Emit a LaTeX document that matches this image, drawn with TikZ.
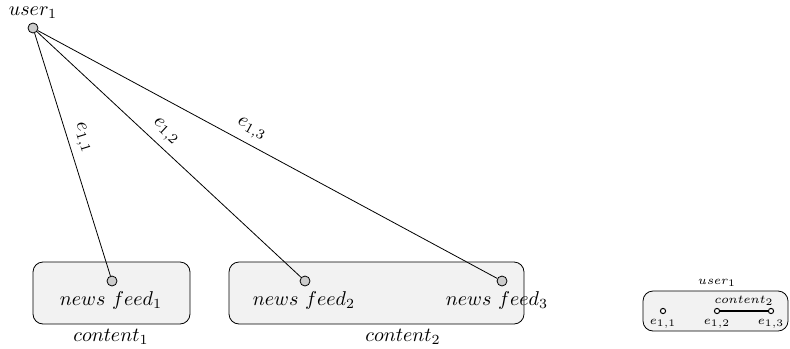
\documentclass[tikz,border=0pt]{standalone}
\usepackage{tikz}

\tikzset{
  vert/.style={circle, draw, fill=gray!40, inner sep=0pt, minimum size=5pt},
  dot/.style={circle, draw, fill=white, inner sep=0pt, minimum size=2.6pt, line width=.5pt},
  group/.style={draw, rounded corners=5pt, fill=gray!10, minimum height=31pt},
  small/.style={font=\fontsize{6}{7}\selectfont}
}

\begin{document}
\begin{tikzpicture}[x=0.5pt, y=-0.5pt]
  \useasboundingbox (0,0) rectangle (790,348);

  % content groups
  \node[group, minimum width=78.5pt] (c1) at (111.5,293) {};
  \node[group, minimum width=147.5pt] (c2) at (376.5,293) {};
  \node (c1lab) at (111,337) {$content_1$};
  \node (c2lab) at (403,337) {$content_2$};

  % news feeds
  \node[vert] (f1) at (112,281) {};
  \node[vert] (f2) at (305,281) {};
  \node[vert] (f3) at (502,281) {};
  \node (f1lab) at (111,300) {$news\ feed_1$};
  \node (f2lab) at (304,300) {$news\ feed_2$};
  \node (f3lab) at (497,300) {$news\ feed_3$};

  % user and its edges
  \node[vert] (u) at (33,28) {};
  \node[inner sep=0pt] (ulab) at (33,13) {$user_1$};
  \draw (u) -- node[pos=.45, above, sloped] {$e_{1,1}$} (f1);
  \draw (u) -- node[pos=.45, above, sloped] {$e_{1,2}$} (f2);
  \draw (u) -- node[pos=.45, above, sloped] {$e_{1,3}$} (f3);

  % small summary box
  \node[group, minimum width=72.5pt, minimum height=20pt] (sb) at (715.5,311) {};
  \node[small] (sbu) at (717,283) {$user_1$};
  \node[dot] (s1) at (663,311) {};
  \node[dot] (s2) at (717,311) {};
  \node[dot] (s3) at (771,311) {};
  \draw[line width=.6pt] (s2) -- node[small, above=-1pt] {$content_2$} (s3);
  \node[small, below=-1pt] at (s1.south) {$e_{1,1}$};
  \node[small, below=-1pt] at (s2.south) {$e_{1,2}$};
  \node[small, below=-1pt] at (s3.south) {$e_{1,3}$};
\end{tikzpicture}
\end{document}
